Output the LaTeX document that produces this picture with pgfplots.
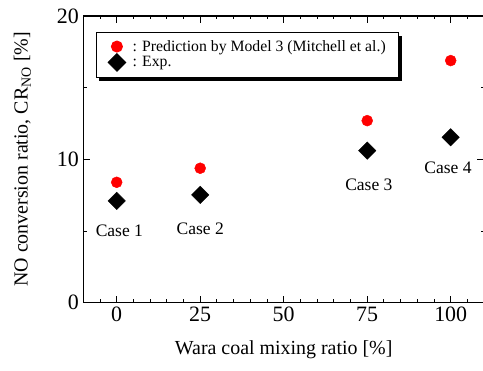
\documentclass[border=0pt]{standalone}
\usepackage{pgfplots}
\pgfplotsset{compat=1.18}
\usepackage{fontspec}
\setmainfont{Liberation Serif}
\usetikzlibrary{shadows}

\begin{document}
\begin{tikzpicture}
\useasboundingbox (-83.3bp,-68.3bp) rectangle (399.7bp,302.7bp);
\begin{axis}[
  scale only axis,
  width=400.8bp, height=286.7bp,
  xmin=-10, xmax=110, ymin=0, ymax=20,
  xtick={0,25,50,75,100},
  minor xtick={-5,5,10,15,20,30,35,40,45,55,60,65,70,80,85,90,95,105},
  ytick={0,10,20},
  minor ytick={5,15},
  tick align=inside,
  major tick length=7bp, minor tick length=3.5bp,
  axis line style={line width=1.1bp},
  every tick/.style={black, line width=0.9bp},
  /pgf/number format/assume math mode=true,
  ticklabel style={font=\fontsize{22}{22}\selectfont},
  xticklabel style={yshift=-1bp},
  yticklabel style={xshift=-1bp},
  xlabel={Wara coal mixing ratio [\%]},
  ylabel={NO conversion ratio, CR\textsubscript{NO} [\%]},
  label style={font=\fontsize{20}{20}\selectfont},
  xlabel style={at={(axis description cs:0.5,-0.165)}, anchor=center},
  ylabel style={at={(axis description cs:-0.152,0.5)}, anchor=center, rotate=0},
  legend cell align=left,
  legend image code/.code={\draw[#1] plot coordinates {(0bp,0bp)};},
  legend style={
    at={(axis description cs:0.031,0.943)}, anchor=north west,
    draw=black, line width=1bp, fill=white,
    drop shadow={shadow xshift=3bp, shadow yshift=-3bp, fill=black, opacity=1},
    font=\fontsize{15.8}{16}\selectfont,
    inner xsep=12bp, inner ysep=6.5bp,
    column sep=6bp, row sep=0bp,
    nodes={inner sep=1bp},
  },
]
% model prediction
\addplot[only marks, mark=*, mark size=5.5bp, mark options={fill=red, draw=red}]
  coordinates {(0,8.40) (25,9.38) (75,12.70) (100,16.89)};
\addlegendentry{: Prediction by Model 3 (Mitchell et al.)}
% experimental values
\addplot[only marks, mark=square*, mark size=6.15bp, mark options={fill=black, draw=black, rotate=45}]
  coordinates {(0,7.10) (25,7.52) (75,10.61) (100,11.54)};
\addlegendentry{: Exp.}

\begin{scope}[font=\fontsize{17.6}{18}\selectfont]
\node at (axis cs:0.8,5.0) {Case 1};
\node at (axis cs:25,5.19) {Case 2};
\node at (axis cs:75.5,8.21) {Case 3};
\node at (axis cs:99.2,9.38) {Case 4};
\end{scope}
\end{axis}
\end{tikzpicture}
\end{document}
